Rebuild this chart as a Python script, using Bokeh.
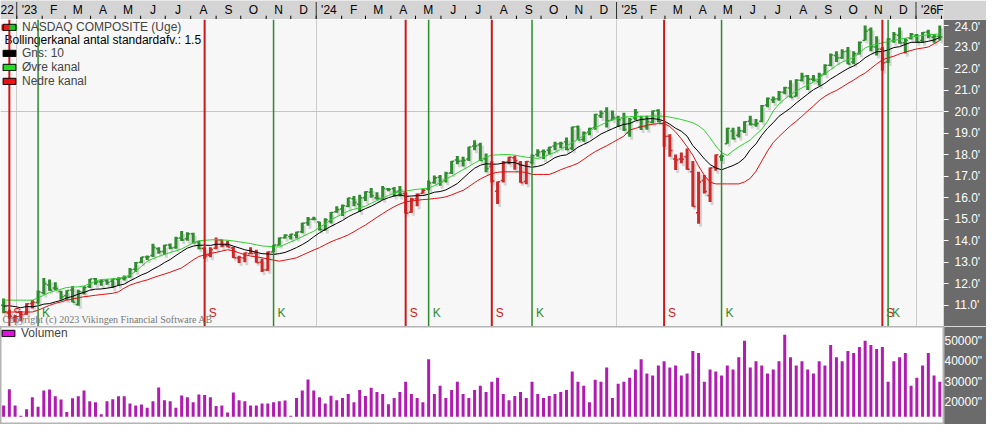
import numpy as np
import pandas as pd
from bokeh.plotting import figure
from bokeh.layouts import column
from bokeh.models import (Range1d, FixedTicker, Span, Legend, LegendItem,
                          ColumnDataSource, Label)
from bokeh.core.properties import value
from bokeh.embed import file_html
from bokeh.resources import INLINE

# ---------------- data (weekly, NASDAQ Composite, points) ----------------
first_week = "2022-12-16"

open_ = [11000, 10640, 10437, 10716, 10600, 11080, 11130, 11590, 11950, 11800,
         11640, 11450, 11710, 11040, 11620, 11880, 12230, 12100, 12140, 12120,
         12200, 12250, 12320, 12680, 13000, 13240, 13320, 13630, 13500, 13800,
         13690, 14130, 14090, 14330, 13950, 13640, 13330, 13650, 14030, 13800,
         13660, 13200, 13200, 13400, 13430, 13000, 12650, 13480, 13800, 14140,
         14200, 14250, 14420, 14830, 15000, 14874, 14500, 14900, 15350, 15480,
         15600, 15950, 15700, 16000, 16250, 16000, 15950, 16400, 16420, 16300,
         16200, 15320, 15950, 16200, 16400, 16700, 16950, 16800, 17150, 17750,
         17700, 17800, 18400, 18450, 17800, 17450, 16300, 16800, 17680, 17850,
         17600, 16750, 17650, 18000, 18150, 18200, 18400, 18500, 18600, 18300,
         19300, 18700, 19050, 19250, 19800, 20000, 19600, 19700, 19700, 19000,
         19700, 19300, 19300, 19500, 20050, 19450, 18850, 17800, 17800, 17900,
         17200, 15300, 16800, 16100, 17400, 17900, 18500, 19100, 18900, 19100,
         19550, 19400, 19550, 20300, 20550, 20600, 20900, 21100, 20700, 21450,
         21650, 21500, 21400, 21750, 22150, 22600, 22500, 22800, 22300, 22700,
         23300, 23800, 23000, 22900, 22300, 23300, 23550, 23200, 23400, 23550,
         23300, 23700, 23450, 23500]

high = [11313, 10800, 10534, 10732, 11100, 11251, 11691, 12269, 12195, 12068,
        11680, 11700, 11900, 11720, 11890, 12227, 12270, 12200, 12210, 12250,
        12300, 12380, 12732, 13010, 13250, 13320, 13865, 13700, 13816, 13870,
        14180, 14447, 14400, 14370, 14000, 13700, 13700, 14150, 14060, 14000,
        13720, 13300, 13450, 13700, 13580, 13170, 13500, 13800, 14150, 14300,
        14320, 14420, 14830, 15100, 15111, 14880, 15050, 15337, 15600, 15680,
        16000, 16080, 16140, 16300, 16450, 16250, 16540, 16450, 16500, 16540,
        16250, 16000, 16200, 16400, 16800, 17032, 17050, 17200, 17700, 17940,
        17900, 18360, 18671, 18550, 18050, 17700, 16750, 17700, 17900, 17950,
        17700, 17700, 18000, 18250, 18240, 18370, 18600, 18600, 18800, 19300,
        19350, 19070, 19250, 19900, 20055, 20204, 20050, 19800, 19950, 19700,
        20120, 19800, 19800, 20050, 20110, 19500, 18950, 18000, 18100, 18280,
        17700, 17200, 17050, 17400, 18000, 18000, 19250, 19250, 19300, 19550,
        19800, 19650, 20300, 20650, 20700, 20950, 21150, 21450, 21500, 21800,
        21700, 21700, 21800, 22200, 22700, 22800, 22900, 23000, 22800, 23250,
        24000, 23900, 23500, 23000, 23400, 23700, 23900, 23400, 23650, 23600,
        23700, 23800, 23600, 24000]

low = [10637, 10385, 10208, 10265, 10563, 10854, 11080, 11500, 11680, 11700,
       11263, 11250, 11138, 10983, 11500, 11800, 11958, 11910, 11960, 11800,
       11925, 12150, 12290, 12550, 12950, 13100, 13250, 13400, 13350, 13600,
       13630, 13990, 14000, 13880, 13600, 13160, 13230, 13600, 13700, 13700,
       13200, 12963, 13000, 13380, 12980, 12544, 12600, 13480, 13780, 14100,
       14058, 14100, 14350, 14700, 14950, 14477, 14480, 14800, 15300, 15150,
       15550, 15600, 15330, 15850, 16000, 15900, 15900, 16300, 16050, 16050,
       15260, 15300, 15600, 16200, 16350, 16650, 16560, 16700, 17100, 17550,
       17450, 17700, 18200, 17700, 17180, 16700, 15708, 16700, 17550, 17300,
       16690, 16620, 17550, 17900, 17800, 18000, 18200, 18300, 18200, 18200,
       18680, 18600, 18900, 19150, 19700, 19260, 19600, 19280, 19100, 18830,
       19600, 19140, 19150, 19450, 19500, 18370, 17900, 17290, 17600, 17300,
       15580, 14784, 16200, 15800, 17250, 17700, 18500, 18700, 18800, 19000,
       19350, 19300, 19500, 20200, 20400, 20500, 20800, 20650, 20700, 21400,
       21000, 21400, 21200, 21700, 22100, 22300, 22450, 22200, 22200, 22650,
       23300, 22800, 22600, 21900, 22250, 23200, 23150, 22700, 23350, 23200,
       23200, 23400, 23200, 23300]

close = [10705, 10498, 10466, 10569, 11079, 11140, 11622, 12007, 11718, 11787,
         11395, 11689, 11138, 11631, 11824, 12222, 12088, 12123, 12072, 12227,
         12235, 12285, 12658, 12976, 13241, 13259, 13689, 13492, 13788, 13661,
         14114, 14032, 14317, 13909, 13645, 13290, 13591, 14031, 13762, 13708,
         13212, 13219, 13431, 13407, 12984, 12643, 13478, 13798, 14125, 14251,
         14305, 14404, 14814, 14993, 15011, 14524, 14973, 15311, 15455, 15629,
         15991, 15776, 15997, 16275, 16085, 15973, 16429, 16379, 16249, 16175,
         15282, 15928, 16156, 16341, 16686, 16921, 16735, 17133, 17689, 17689,
         17733, 18353, 18398, 17727, 17358, 16776, 16745, 17631, 17877, 17714,
         16691, 17684, 17948, 18120, 18138, 18343, 18490, 18519, 18240, 19287,
         18680, 19004, 19218, 19860, 19927, 19573, 19722, 19622, 19162, 19630,
         19955, 19627, 19523, 20027, 19524, 18847, 18196, 17754, 17784, 17323,
         15588, 16724, 16286, 17383, 17978, 17929, 19211, 18737, 19114, 19530,
         19407, 19447, 20273, 20601, 20586, 20896, 21108, 20650, 21450, 21623,
         21497, 21456, 21700, 22141, 22631, 22484, 22781, 22204, 22680, 23205,
         23725, 23005, 22901, 22273, 23366, 23578, 23195, 23307, 23593, 23236,
         23671, 23515, 23501, 23462]

gns_10 = [10962, 10980, 10941, 10887, 10948, 10930, 10977, 11055, 11081, 11159,
          11228, 11347, 11414, 11521, 11595, 11703, 11750, 11762, 11797, 11841,
          11925, 11985, 12137, 12271, 12413, 12516, 12677, 12813, 12985, 13128,
          13316, 13491, 13657, 13750, 13791, 13794, 13784, 13838, 13835, 13840,
          13750, 13668, 13580, 13530, 13464, 13399, 13388, 13364, 13401, 13455,
          13564, 13683, 13821, 13980, 14182, 14370, 14520, 14671, 14804, 14942,
          15111, 15248, 15366, 15494, 15602, 15747, 15892, 15999, 16078, 16133,
          16062, 16077, 16093, 16100, 16160, 16255, 16285, 16361, 16505, 16656,
          16901, 17144, 17368, 17506, 17574, 17559, 17560, 17610, 17629, 17631,
          17527, 17460, 17415, 17454, 17532, 17689, 17864, 17952, 17989, 18146,
          18345, 18477, 18604, 18778, 18957, 19080, 19203, 19313, 19406, 19440,
          19567, 19630, 19660, 19677, 19637, 19564, 19411, 19225, 19087, 18856,
          18419, 18129, 17805, 17541, 17386, 17295, 17396, 17494, 17627, 17848,
          18230, 18502, 18901, 19223, 19484, 19780, 19970, 20161, 20395, 20604,
          20813, 21014, 21157, 21311, 21515, 21674, 21841, 21997, 22120, 22278,
          22501, 22656, 22776, 22789, 22862, 22972, 23013, 23124, 23215, 23218,
          23213, 23264, 23324, 23442]

upper_channel = [11240, 11240, 11240, 11240, 11240, 11240, 11340, 11470, 11600, 11680,
                 11750, 11830, 11845, 11860, 11900, 12010, 12130, 12200, 12215, 12225,
                 12250, 12330, 12400, 12580, 12810, 13040, 13170, 13270, 13370, 13450,
                 13530, 13620, 13760, 13900, 14000, 14020, 14040, 14050, 14035, 14025,
                 13990, 13950, 13910, 13870, 13810, 13760, 13740, 13720, 13710, 13830,
                 13950, 14060, 14190, 14320, 14440, 14620, 14780, 14980, 15110, 15250,
                 15380, 15460, 15530, 15610, 15740, 15870, 15990, 16100, 16210, 16280,
                 16305, 16350, 16390, 16420, 16450, 16560, 16700, 16850, 17000, 17150,
                 17300, 17450, 17610, 17760, 17890, 17975, 17990, 18000, 18000, 17975,
                 17925, 17880, 17855, 17825, 17900, 18000, 18110, 18250, 18400, 18550,
                 18710, 18890, 19080, 19250, 19380, 19500, 19620, 19690, 19740, 19760,
                 19770, 19780, 19790, 19790, 19790, 19780, 19740, 19690, 19630, 19560,
                 19480, 19340, 19130, 18780, 18400, 18090, 17960, 18180, 18360, 18520,
                 18680, 18940, 19180, 19550, 20030, 20350, 20580, 20790, 20950, 21100,
                 21240, 21370, 21560, 21750, 21950, 22140, 22300, 22400, 22510, 22730,
                 22960, 23060, 23130, 23190, 23250, 23300, 23360, 23410, 23460, 23500,
                 23535, 23570, 23585, 23610]

lower_channel = [10690, 10690, 10690, 10690, 10690, 10690, 10770, 10890, 11000, 11090,
                 11160, 11240, 11290, 11350, 11400, 11430, 11470, 11500, 11530, 11560,
                 11630, 11800, 11940, 12030, 12110, 12180, 12280, 12370, 12450, 12540,
                 12640, 12740, 12920, 13110, 13270, 13340, 13410, 13460, 13520, 13580,
                 13530, 13440, 13350, 13290, 13250, 13210, 13150, 13100, 13050, 13100,
                 13150, 13210, 13330, 13450, 13570, 13680, 13820, 13950, 14060, 14160,
                 14270, 14420, 14580, 14730, 14910, 15090, 15260, 15430, 15580, 15710,
                 15800, 15850, 15880, 15910, 15930, 15960, 15990, 16040, 16130, 16240,
                 16340, 16510, 16700, 16870, 17000, 17120, 17180, 17200, 17200, 17200,
                 17200, 17170, 17080, 17080, 17080, 17080, 17180, 17300, 17400, 17490,
                 17600, 17780, 17970, 18140, 18280, 18410, 18560, 18710, 18860, 19140,
                 19220, 19290, 19370, 19410, 19440, 19450, 19300, 19050, 18730, 18370,
                 17970, 17470, 17040, 16720, 16640, 16640, 16640, 16640, 16640, 16730,
                 16900, 17230, 17700, 18170, 18560, 18840, 19090, 19340, 19550, 19780,
                 20030, 20260, 20510, 20710, 20860, 20980, 21140, 21310, 21460, 21640,
                 21790, 22000, 22210, 22400, 22500, 22570, 22680, 22760, 22840, 22910,
                 22950, 23000, 23150, 23300]

volume = [18430, 26330, 18430, 13340, 16520, 22380, 17780, 25710, 26190, 22860,
          21270, 15240, 21900, 22860, 25710, 20480, 20000, 14130, 20480, 21430,
          22860, 22860, 19370, 18430, 18900, 17290, 20480, 27140, 20950, 20480,
          17290, 23330, 22380, 20000, 23810, 23490, 22380, 18100, 18430, 14920,
          24760, 20950, 20480, 18430, 18430, 19370, 19370, 20000, 20480, 20790,
          13340, 22060, 25710, 31110, 25710, 22380, 19370, 23170, 20950, 22000,
          24000, 20000, 26000, 23000, 27000, 25000, 24000, 19000, 22000, 25000,
          30000, 24000, 22000, 20000, 41000, 24000, 28000, 22000, 26000, 30000,
          24000, 22000, 26000, 28000, 25000, 30000, 32000, 24000, 21000, 23000,
          25000, 22000, 30000, 24000, 22000, 23000, 24000, 25000, 26000, 35000,
          30000, 28000, 20000, 31000, 30000, 37000, 22000, 29000, 30000, 32000,
          36000, 41000, 34000, 33000, 38000, 40000, 37000, 38000, 33000, 34000,
          45000, 44000, 30000, 36000, 35000, 33000, 38000, 36000, 42000, 50000,
          37000, 40000, 38000, 34000, 36000, 40000, 53000, 42000, 38000, 40000,
          36000, 34000, 40000, 38000, 48000, 42000, 40000, 45000, 44000, 47000,
          50000, 48000, 46000, 47000, 30000, 40000, 42000, 44000, 28000, 32000,
          38000, 44000, 33000, 30000]

sell_signals = ["2022-12-23", "2023-08-18", "2024-04-19", "2024-08-02", "2025-02-28", "2025-11-21"]
buy_signals = ["2023-01-27", "2023-11-10", "2024-05-17", "2024-09-20", "2025-05-09", "2025-11-28"]

price_ticks = [11000, 12000, 13000, 14000, 15000, 16000, 17000, 18000, 19000,
               20000, 21000, 22000, 23000, 24000]
price_tick_labels = ["11.0'", "12.0'", "13.0'", "14.0'", "15.0'", "16.0'", "17.0'",
                     "18.0'", "19.0'", "20.0'", "21.0'", "22.0'", "23.0'", "24.0'"]
price_grid_levels = [20000]
volume_ticks = [20000, 30000, 40000, 50000]
volume_tick_labels = ['20000"', '30000"', '40000"', '50000"']

month_labels = ["22", "'23", "F", "M", "A", "M", "J", "J", "A", "S", "O", "N", "D",
                "'24", "F", "M", "A", "M", "J", "J", "A", "S", "O", "N", "D",
                "'25", "F", "M", "A", "M", "J", "J", "A", "S", "O", "N", "D",
                "'26", "F"]
first_month = "2022-12-01"

title = "NASDAQ COMPOSITE (Uge)"
band_text = "Bollingerkanal antal standardafv.: 1.5"
copyright_text = "Copyright (c) 2023 Vikingen Financial Software AB"

# ---------------- layout constants ----------------
W, RIGHT = 986, 43
H_BAR, H_PRICE, H_VOL = 19, 307, 98
VIEW_START = pd.Timestamp("2022-12-12 05:00")
VIEW_END = pd.Timestamp("2026-02-03 12:00")
PRICE_Y = (10017, 24276)
VOL_Y = (9084, 57020)
VOL_BASE = 12900
FONT = "Liberation Sans"
GREEN_BAR, RED_BAR = "#2f8c2f", "#cc2a2a"
SHADOW = "#d4d4d4"
AXIS_BG = "#6b6b6b"

weeks = pd.date_range(first_week, periods=len(close), freq="7D")
frame_w = W - RIGHT
px_per_day = frame_w / ((VIEW_END - VIEW_START) / pd.Timedelta(days=1))
def px_days(px):
    return pd.Timedelta(days=px / px_per_day)
units_px = (PRICE_Y[1] - PRICE_Y[0]) / H_PRICE
ms = lambda t: pd.Timestamp(t).value / 1e6

# signal state per week -> bar colour
events = sorted([(pd.Timestamp(d), "S") for d in sell_signals] +
                [(pd.Timestamp(d), "K") for d in buy_signals])
state, j, colors = "K", 0, []
for w in weeks:
    while j < len(events) and events[j][0] <= w:
        state = events[j][1]
        j += 1
    colors.append(RED_BAR if state == "S" else GREEN_BAR)

hi = np.array(high, float); lo = np.array(low, float)
src = ColumnDataSource(dict(
    x=weeks, o=open_, h=high, l=low, c=close, col=colors,
    xs=weeks + px_days(2), hs=hi - 3 * units_px, ls=lo - 3 * units_px,
    xo=weeks - px_days(2.6), xc=weeks + px_days(2.6),
    mid=gns_10, up=upper_channel, dn=lower_channel, v=volume))

xr = Range1d(VIEW_START, VIEW_END)

# legend swatch placeholders: one point outside the visible window
GX0, GX1 = VIEW_START - px_days(60), VIEW_START - px_days(40)

def swatch_line(fig, y_off, **kw):
    return fig.line(x=[GX0, GX1], y=[y_off, y_off], **kw)

def swatch_box(fig, y_off, **kw):
    return fig.quad(left=[GX0], right=[GX1], top=[y_off], bottom=[y_off - 1], **kw)

# ---------------- top time bar ----------------
months = pd.date_range(first_month, periods=len(month_labels), freq="MS")
next_months = pd.date_range(months[0] + pd.offsets.MonthBegin(1), periods=len(months), freq="MS")
mids = months + (next_months - months) / 2
years = [m for m in months if m.month == 1]

top = figure(width=W, height=H_BAR, x_range=xr, y_range=Range1d(0, 1),
             x_axis_location=None, y_axis_location=None, toolbar_location=None,
             output_backend="svg", min_border=0, min_border_right=RIGHT,
             background_fill_color="#d4d4d4", border_fill_color="#d4d4d4",
             outline_line_color=None)
top.xgrid.visible = False
top.ygrid.visible = False
top.segment(x0=months, y0=0, x1=months, y1=0.2, line_color="black", line_width=1)
top.segment(x0=years, y0=0, x1=years, y1=0.92, line_color="#303030", line_width=1)
lab_x, lab_t, lab_a = [], [], []
for k in range(len(months)):
    if mids[k] > VIEW_END:
        lab_x.append(VIEW_END); lab_a.append("right")
    elif mids[k] < VIEW_START + px_days(8):
        lab_x.append(VIEW_START); lab_a.append("left")
    else:
        lab_x.append(mids[k]); lab_a.append("center")
    lab_t.append(month_labels[k])
for align in ("left", "center", "right"):
    idx = [k for k in range(len(lab_x)) if lab_a[k] == align]
    if idx:
        top.text(x=[lab_x[k] for k in idx], y=0.52, text=[lab_t[k] for k in idx],
                 text_align=align, text_baseline="middle", text_font=value(FONT),
                 text_font_size="12px", text_color="black")

# ---------------- price panel ----------------
p = figure(width=W, height=H_PRICE, x_range=xr, y_range=Range1d(*PRICE_Y),
           x_axis_location=None, y_axis_location="right", toolbar_location=None,
           output_backend="svg", min_border=0, min_border_right=RIGHT,
           background_fill_color="#f7f7f7", border_fill_color=AXIS_BG,
           outline_line_color=None)
p.xgrid.ticker = FixedTicker(ticks=[ms(y) for y in years])
p.xgrid.grid_line_color = "#cccccc"
p.ygrid.ticker = FixedTicker(ticks=price_grid_levels)
p.ygrid.grid_line_color = "#c4c4c4"

ax = p.yaxis[0]
ax.ticker = FixedTicker(ticks=price_ticks)
ax.major_label_overrides = {t: s for t, s in zip(price_ticks, price_tick_labels)}
ax.axis_line_color = None
ax.major_tick_line_color = "white"
ax.major_tick_out = 5
ax.major_tick_in = 0
ax.minor_tick_line_color = None
ax.major_label_standoff = 6
ax.major_label_text_color = "white"
ax.major_label_text_font = FONT
ax.major_label_text_font_size = "12px"

# bars: shadow, high-low, open/close ticks
p.segment("xs", "ls", "xs", "hs", source=src, line_color=SHADOW, line_width=3)
p.segment("x", "l", "x", "h", source=src, line_color="col", line_width=3)
p.segment("xo", "o", "x", "o", source=src, line_color="col", line_width=1.5)
p.segment("x", "c", "xc", "c", source=src, line_color="col", line_width=1.5)

# channel lines
p.line("x", "up", source=src, line_color="#2fd02f", line_width=1)
p.line("x", "mid", source=src, line_color="black", line_width=1)
p.line("x", "dn", source=src, line_color="#dd1010", line_width=1)

# legend
gy = PRICE_Y[0] - 50 * units_px
r_red = swatch_line(p, gy, line_color="#e81c1c", line_width=6, line_dash="8 8")
r_grn = swatch_line(p, gy, line_color="#22c322", line_width=6, line_dash="8 8", line_dash_offset=8)
r_box = swatch_box(p, gy, fill_alpha=0, line_color="black")
r_none = swatch_line(p, gy, line_alpha=0)
r_blk = swatch_box(p, gy, fill_color="black", line_color="black")
r_up = swatch_box(p, gy, fill_color="#22dd22", line_color="black")
r_dn = swatch_box(p, gy, fill_color="#ee1111", line_color="black")
legend = Legend(items=[
    LegendItem(label=value(title), renderers=[r_red, r_grn, r_box]),
    LegendItem(label=value(" "), renderers=[r_none]),
    LegendItem(label=value("Gns: 10"), renderers=[r_blk]),
    LegendItem(label=value("Øvre kanal"), renderers=[r_up]),
    LegendItem(label=value("Nedre kanal"), renderers=[r_dn]),
], location="top_left", background_fill_alpha=0, border_line_color=None,
    glyph_width=16, glyph_height=8, label_text_font=FONT, label_text_font_size="12px",
    label_text_line_height=1.0, label_height=12, spacing=0, padding=0, margin=0,
    label_standoff=5)
legend.margin = 1
p.add_layout(legend)
p.add_layout(Label(x=ms(VIEW_START + px_days(4)), y=PRICE_Y[1] - 20 * units_px,
                   text=band_text, text_font=FONT, text_font_size="12px",
                   text_color="black", text_baseline="middle"))

# signal lines and labels
for d in sell_signals:
    p.add_layout(Span(location=ms(d), dimension="height",
                      line_color="#cc1818", line_width=2))
for d in buy_signals:
    p.add_layout(Span(location=ms(d), dimension="height",
                      line_color="#2b8a2b", line_width=1.5))
label_y = PRICE_Y[0] + 14 * units_px
p.text(x=pd.to_datetime(sell_signals), y=label_y, text=["S"] * len(sell_signals),
       x_offset=4, text_align="left", text_baseline="middle", text_font=value(FONT),
       text_font_size="12px", text_color="#cc2020")
p.text(x=pd.to_datetime(buy_signals), y=label_y, text=["K"] * len(buy_signals),
       x_offset=4, text_align="left", text_baseline="middle", text_font=value(FONT),
       text_font_size="12px", text_color="#2b8a2b")

p.add_layout(Label(x=ms(VIEW_START), y=PRICE_Y[0] + 2 * units_px, x_offset=2,
                   text=copyright_text, text_font="Liberation Serif",
                   text_font_size="10px", text_color="#777777", text_baseline="bottom"))

# ---------------- volume panel ----------------
v = figure(width=W, height=H_VOL, x_range=xr, y_range=Range1d(*VOL_Y),
           x_axis_location=None, y_axis_location="right", toolbar_location=None,
           output_backend="svg", min_border=0, min_border_right=RIGHT,
           background_fill_color="white", border_fill_color=AXIS_BG,
           outline_line_color="#b4b4b4", outline_line_width=2)
v.xgrid.visible = False
v.ygrid.visible = False
vax = v.yaxis[0]
vax.ticker = FixedTicker(ticks=volume_ticks)
vax.major_label_overrides = {t: s for t, s in zip(volume_ticks, volume_tick_labels)}
vax.axis_line_color = None
vax.major_tick_line_color = None
vax.major_tick_out = 0
vax.major_tick_in = 0
vax.minor_tick_line_color = None
vax.major_label_standoff = 1
vax.major_label_text_color = "white"
vax.major_label_text_font = FONT
vax.major_label_text_font_size = "12px"

v.vbar(x="x", top="v", bottom=VOL_BASE, width=px_days(3).total_seconds() * 1000,
       source=src, fill_color="#b01cb0", line_color=None)
r_vol = swatch_box(v, VOL_Y[0] - 5000, fill_color="#e010e0", line_color="black")
v.add_layout(Legend(items=[LegendItem(label=value("Volumen"), renderers=[r_vol])],
                    location="top_left", background_fill_alpha=0, border_line_color=None,
                    glyph_width=16, glyph_height=8, label_text_font=FONT,
                    label_text_font_size="12px", spacing=0, padding=4, margin=0,
                    label_standoff=5))

layout = column(top, p, v, spacing=0)
open("out.html", "w").write(file_html(layout, INLINE))
